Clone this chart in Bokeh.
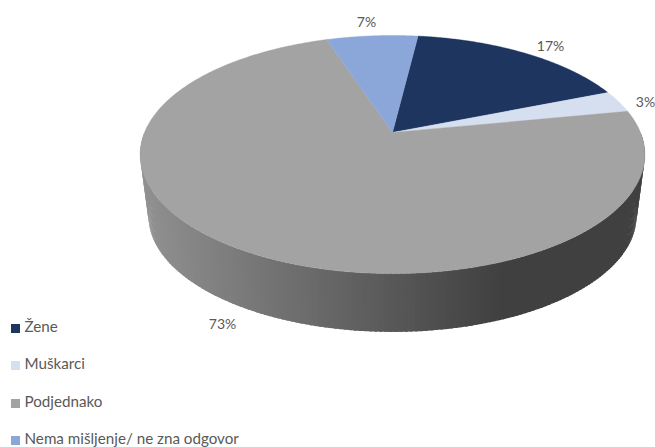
import numpy as np
from bokeh.plotting import figure
from bokeh.models import Range1d
from bokeh.core.properties import value
from bokeh.embed import file_html
from bokeh.resources import INLINE

categories = ["Žene", "Muškarci", "Podjednako", "Nema mišljenje/ ne zna odgovor"]
shares = [17, 3, 73, 7]
colors = ["#1d355f", "#d6dfef", "#a3a3a3", "#8ba6d8"]
label_x = [550, 645, 222, 366]
label_y = [45, 101, 323, 21]
legend_y = [328, 365, 403, 440]

W, H = 655, 447
p = figure(width=W, height=H, output_backend="svg", toolbar_location=None,
           x_range=Range1d(0, W), y_range=Range1d(H, 0),
           min_border=0, outline_line_color=None, background_fill_color="white",
           border_fill_color="white")
p.axis.visible = False
p.grid.visible = False

# tilted-disc projection: disc centre maps to the apex of the slices
CX, CY, AX, BY, K = 392.0, 132.0, 248.0, 115.0, 0.185
START = 7.0


def top_point(deg):
    r = np.radians(deg)
    xc, yc = np.sin(r), np.cos(r)
    w = 1 + K * yc
    return CX + AX * xc / w, CY - BY * yc / w


def bottom_point(deg):
    # base disc: same shape, a little narrower, lower on the page
    x, y = top_point(deg)
    return CX + (x - CX) * 0.967, 215.5 + (y - 154.0) * 0.973


# side wall as overlapping vertical strips carrying the left-to-right shading
a = np.linspace(90, 270, 181)
step = a[1] - a[0]
xs_w, ys_w, cs_w = [], [], []
for d0 in a[::-1][1:]:
    d1 = d0 + step * 1.6
    x0, y0 = top_point(d0)
    x1, y1 = top_point(min(d1, 270))
    x2, y2 = bottom_point(min(d1, 270))
    x3, y3 = bottom_point(d0)
    xs_w.append([x0, x1, x2, x3])
    ys_w.append([y0, y1, y2, y3])
    t = np.clip(((x0 + x3) / 2 - 140) / (505 - 140), 0, 1)
    g = int(round(0x92 + (0x40 - 0x92) * t))
    cs_w.append(f"#{g:02x}{g:02x}{g:02x}")
p.patches(xs_w, ys_w, fill_color=cs_w, line_color=None)

# top surface slices, swept from the shares
cum = START
for share, col in zip(shares, colors):
    sweep = share / sum(shares) * 360
    ang = np.linspace(cum, cum + sweep, max(int(sweep * 2), 3))
    ex, ey = top_point(ang)
    p.patch(np.r_[CX, ex], np.r_[CY, ey], fill_color=col, line_color=col, line_width=0.4)
    cum += sweep

p.text(label_x, label_y, text=[f"{s}%" for s in shares], text_align="center",
       text_baseline="middle", text_color="#595959",
       text_font=value("Lato"), text_font_size="14px")

p.scatter([15] * 4, legend_y, marker="square", size=9, fill_color=colors, line_color=None)
p.text([24] * 4, legend_y, text=categories, text_align="left", text_baseline="middle",
       y_offset=-3, text_color="#595959", text_font=value("Lato"), text_font_size="15.2px")

open("out.html", "w").write(file_html(p, INLINE))
